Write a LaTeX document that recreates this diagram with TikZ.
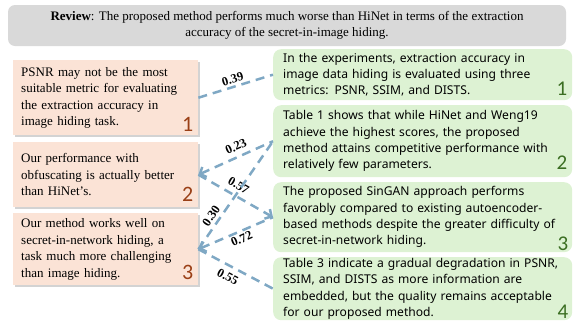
\documentclass[tikz,border=0pt]{standalone}
\usepackage{fontspec}
\setmainfont{Liberation Serif}
\newfontfamily\rfont{Noto Sans}
\newfontfamily\numfont{Carlito}
\usetikzlibrary{arrows.meta,shadows}
\definecolor{salmon}{HTML}{FBE3D6}
\definecolor{greenbox}{HTML}{DDF2D3}
\definecolor{graybox}{HTML}{D9D9D9}
\definecolor{conn}{HTML}{7FA8C4}
\definecolor{lnum}{HTML}{9A3F16}
\definecolor{rnum}{HTML}{3B6E22}
\begin{document}
\begin{tikzpicture}[x=1pt,y=-1pt,
  >={Straight Barb[length=5pt, width=11pt, line width=2.5pt]},
  review/.style={fill=graybox, rounded corners=7pt, minimum width=558pt, minimum height=41pt, align=center, inner sep=0pt, font=\fontsize{13}{16.5}\selectfont},
  lbox/.style={fill=salmon, rectangle, anchor=north west, text width=169pt, inner xsep=8pt, inner ysep=0pt, align=left, font=\fontsize{13}{16.5}\selectfont, drop shadow={shadow xshift=1.5pt, shadow yshift=-2pt, opacity=0.35}},
  rbox/.style={fill=greenbox, rounded corners=8pt, anchor=north west, text width=279pt, inner xsep=10pt, inner ysep=0pt, align=left, font=\rfont\fontsize{12.1}{16.3}\selectfont},
  lnumst/.style={anchor=base east, inner sep=0pt, text=lnum, font=\numfont\fontsize{22}{22}\selectfont},
  rnumst/.style={anchor=base east, inner sep=0pt, text=rnum, font=\numfont\fontsize{21}{21}\selectfont},
  link/.style={draw=conn, line width=2.5pt, dash pattern=on 9pt off 6pt},
  wlabel/.style={font=\bfseries\fontsize{12.5}{13}\selectfont, inner sep=0pt, sloped}
]
\useasboundingbox (0,0) rectangle (575,325);

\node[review] (rev) at (287,25.5) {\textbf{Review}: The proposed method performs much worse than HiNet in terms of the extraction\\accuracy of the secret-in-image hiding.};

\node[lbox, minimum height=75pt] (l1) at (13,60) {\mbox{PSNR may not be the most}\\\mbox{suitable metric for evaluating}\\\mbox{the extraction accuracy in}\\\mbox{image hiding task.}};
\node[lbox, minimum height=65pt] (l2) at (13,142) {\mbox{Our performance with}\\\mbox{obfuscating is actually better}\\\mbox{than HiNet’s.}};
\node[lbox, minimum height=72pt] (l3) at (13,213) {\mbox{Our method works well on}\\\mbox{secret-in-network hiding, a}\\\mbox{task much more challenging}\\\mbox{than image hiding.}};

\node[rbox, minimum height=51pt] (r1) at (273,49) {\mbox{In the experiments, extraction accuracy in}\\\mbox{image data hiding is evaluated using three}\\\mbox{metrics: PSNR, SSIM, and DISTS.}};
\node[rbox, minimum height=72pt] (r2) at (273,105) {\mbox{Table 1 shows that while HiNet and Weng19}\\\mbox{achieve the highest scores, the proposed}\\\mbox{method attains competitive performance with}\\\mbox{relatively few parameters.}};
\node[rbox, minimum height=70pt] (r3) at (273,182) {\mbox{The proposed SinGAN approach performs}\\\mbox{favorably compared to existing autoencoder-}\\\mbox{based methods despite the greater difficulty of}\\\mbox{secret-in-network hiding.}};
\node[rbox, minimum height=63pt] (r4) at (273,257) {\mbox{Table 3 indicate a gradual degradation in PSNR,}\\\mbox{SSIM, and DISTS as more information are}\\\mbox{embedded, but the quality remains acceptable}\\\mbox{for our proposed method.}};

\node[lnumst] (nl1) at ([xshift=-5pt, yshift=4pt]l1.south east) {1};
\node[lnumst] (nl2) at ([xshift=-5pt, yshift=6pt]l2.south east) {2};
\node[lnumst] (nl3) at ([xshift=-5pt, yshift=6pt]l3.south east) {3};
\node[rnumst] (nr1) at ([xshift=-5pt, yshift=5pt]r1.south east) {1};
\node[rnumst] (nr2) at ([xshift=-5pt, yshift=8pt]r2.south east) {2};
\node[rnumst] (nr3) at ([xshift=-4pt, yshift=2pt]r3.south east) {3};
\node[rnumst] (nr4) at ([xshift=-4pt, yshift=2pt]r4.south east) {4};

\draw[link] (l1.east) -- node[wlabel, pos=0.49, above=2pt] {0.39} (r1.west);
\draw[link, <-] (l2.east) -- node[wlabel, pos=0.56, above=5pt] {0.23} (r2.west);
\draw[link, ->] (l2.east) -- node[wlabel, pos=0.47, above=5pt] {0.57} (r3.west);
\draw[link] (l3.east) -- node[wlabel, pos=0.265, above=3pt] {0.30} (r2.west);
\draw[link, <-] (l3.east) -- node[wlabel, pos=0.54, below=2pt] {0.72} (r3.west);
\draw[link] (l3.east) -- node[wlabel, pos=0.46, below=5pt] {0.55} (r4.west);
\end{tikzpicture}
\end{document}
